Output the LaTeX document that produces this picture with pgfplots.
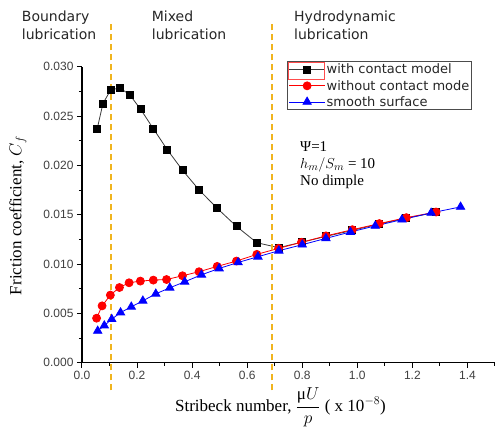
\documentclass[border=0pt]{standalone}
\usepackage{amsmath}
\usepackage{pgfplots}
\pgfplotsset{compat=1.18}
\usepackage{pgfplotstable}
\usepackage{fontspec}
\setmainfont{Liberation Serif}
\newfontfamily\dejavu{DejaVu Sans}
\newfontfamily\arialf{Liberation Sans}

\definecolor{gold}{RGB}{240,180,30}
\definecolor{linegrey}{RGB}{60,60,60}

% with contact model
\pgfplotstableread{
x y
0.055 0.02368
0.076 0.02626
0.104 0.02764
0.137 0.02785
0.173 0.02717
0.213 0.02568
0.259 0.02372
0.310 0.02158
0.365 0.01951
0.425 0.01752
0.491 0.01565
0.561 0.01382
0.635 0.01216
0.714 0.01166
0.797 0.01220
0.886 0.01280
0.982 0.01341
1.080 0.01406
1.178 0.01465
1.286 0.01524
}\withcontact

% without contact model
\pgfplotstableread{
x y
0.053 0.00451
0.073 0.00576
0.103 0.00685
0.136 0.00762
0.171 0.00810
0.212 0.00827
0.259 0.00837
0.307 0.00843
0.365 0.00881
0.425 0.00922
0.491 0.00976
0.561 0.01030
0.635 0.01098
0.714 0.01159
0.797 0.01220
0.886 0.01285
0.982 0.01348
1.080 0.01410
1.178 0.01470
1.286 0.01527
}\withoutcontact

% smooth surface
\pgfplotstableread{
x y
0.057 0.00322
0.081 0.00376
0.108 0.00441
0.140 0.00508
0.179 0.00566
0.221 0.00627
0.268 0.00698
0.319 0.00759
0.373 0.00820
0.434 0.00891
0.498 0.00955
0.567 0.01016
0.639 0.01074
0.715 0.01135
0.800 0.01196
0.886 0.01260
0.975 0.01325
1.065 0.01386
1.162 0.01450
1.268 0.01518
1.375 0.01579
}\smooth

\begin{document}
\begin{tikzpicture}
\begin{axis}[
  scale only axis,
  width=413pt, height=296pt,
  xmin=0, xmax=1.5, ymin=0, ymax=0.030,
  axis x line=bottom, axis y line=left,
  axis line style={-, line width=1.2pt},
  tick align=outside,
  major tick length=5pt, minor tick length=3pt,
  tick style={line width=1pt, black},
  xtick={0,0.2,...,1.4},
  minor xtick={0.1,0.3,...,1.5},
  ytick={0,0.005,...,0.030},
  minor ytick={0.0025,0.0075,...,0.0275},
  scaled y ticks=false,
  tick label style={font=\arialf\fontsize{12}{12}\selectfont, color=black!75},
  /pgf/number format/assume math mode=true,
  xticklabel style={/pgf/number format/.cd, fixed, fixed zerofill, precision=1},
  yticklabel style={/pgf/number format/.cd, fixed, fixed zerofill, precision=3},
  clip=false,
  legend style={at={(axis cs:0.7457,0.03053)}, anchor=north west,
    draw=black!70, line width=0.8pt, inner sep=1pt, row sep=2.3pt,
    font=\dejavu\fontsize{13}{15}\selectfont, text=black!85,
    nodes={inner sep=1.2pt}},
  legend cell align=left,
  legend image code/.code={
    \draw[mark repeat=2, mark phase=2] plot coordinates {(0pt,0pt) (18pt,0pt) (36pt,0pt)};},
]
\addplot[linegrey, line width=0.8pt, mark=square*, mark size=3.5pt,
  mark options={black, fill=black}] table[x=x, y=y] {\withcontact};
\addlegendentry{with contact model}
\addplot[red, line width=0.8pt, mark=*, mark size=4pt,
  mark options={red, fill=red}] table[x=x, y=y] {\withoutcontact};
\addlegendentry{without contact mode}
\addplot[blue, line width=0.8pt, mark=triangle*, mark size=4.8pt,
  mark options={blue, fill=blue}] table[x=x, y=y] {\smooth};
\addlegendentry{smooth surface}

\draw[gold, line width=1.8pt, dash pattern=on 6pt off 4pt]
  (axis cs:0.104,-0.0028) -- (axis cs:0.104,0.0346);
\draw[gold, line width=1.8pt, dash pattern=on 6pt off 4pt]
  (axis cs:0.69,-0.0028) -- (axis cs:0.69,0.0346);

\coordinate (O) at (rel axis cs:0,0);
\end{axis}

\begin{scope}[shift={(O)}]
  % regime labels
  \node[anchor=north west, inner sep=0, align=left, text=black!85,
    font=\dejavu\fontsize{14}{18.3}\selectfont] at (-60.3pt,352pt) {Boundary\\lubrication};
  \node[anchor=north west, inner sep=0, align=left, text=black!85,
    font=\dejavu\fontsize{14}{18.3}\selectfont] at (69.7pt,352pt) {Mixed\\lubrication};
  \node[anchor=north west, inner sep=0, align=left, text=black!85,
    font=\dejavu\fontsize{14}{18.3}\selectfont] at (212pt,352pt) {Hydrodynamic\\lubrication};
  % parameters
  \node[anchor=base west, inner sep=0, font=\fontsize{15}{17}\selectfont] at (218pt,211pt) {Ψ=1};
  \node[anchor=base west, inner sep=0, font=\fontsize{15}{17}\selectfont] at (218pt,194.4pt) {$h_m/S_m$ = 10};
  \node[anchor=base west, inner sep=0, font=\fontsize{15}{17}\selectfont] at (218pt,177pt) {No dimple};
  % highlight box around first legend sample
  \draw[red!70, line width=0.7pt] (206.3pt,300.4pt) rectangle (242.3pt,283.7pt);
  % axis labels
  \node[anchor=base, inner sep=0, font=\fontsize{17}{19}\selectfont] at (198.5pt,-48.5pt)
    {Stribeck number, $\dfrac{\text{μ}U}{p}$ ( x 10$^{-8}$)};
  \node[anchor=base, rotate=90, inner sep=0, font=\fontsize{17}{19}\selectfont] at (-60.5pt,147pt)
    {Friction coefficient, $C_f$};
\end{scope}

\pgfresetboundingbox
\path[use as bounding box] ([shift={(-82pt,-64.3pt)}]O) rectangle ([shift={(417pt,362.7pt)}]O);
\end{tikzpicture}
\end{document}
